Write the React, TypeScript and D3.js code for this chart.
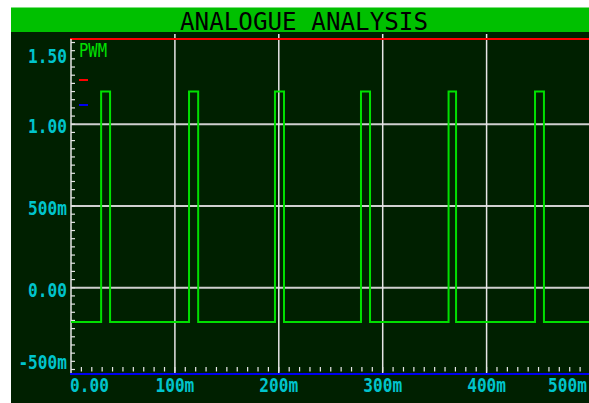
import React from "react";
import * as d3 from "d3";

const title = "ANALOGUE ANALYSIS";
const seriesName = "PWM";
const yTickValues = [1.5, 1.0, 0.5, 0.0, -0.5];
const yTickLabels = ["1.50", "1.00", "500m", "0.00", "-500m"];
const xTickValues = [0, 100, 200, 300, 400, 500];
const xTickLabels = ["0.00", "100m", "200m", "300m", "400m", "500m"];
const pulseRise = [29, 113.6, 196.3, 279.1, 363.4, 446.6]; // ms
const pulseFall = [37.6, 122.4, 205.0, 287.8, 370.6, 455.2]; // ms
const lowLevel = -0.21;
const highLevel = 1.2;
const tStart = 0;
const tEnd = 500;

const W = 589;
const H = 403;
const left = 71;
const right = 589;

export default function App() {
  const x = d3.scaleLinear().domain([0, 500]).range([71, 590.5]);
  const y = d3.scaleLinear().domain([-0.5, 1.5]).range([369.5, 42.5]);

  const pts: [number, number][] = [[tStart, lowLevel]];
  pulseRise.forEach((r, i) => {
    pts.push([r, lowLevel], [r, highLevel], [pulseFall[i], highLevel], [pulseFall[i], lowLevel]);
  });
  pts.push([tEnd, lowLevel]);
  const line = d3
    .line<[number, number]>()
    .x((d) => x(d[0]))
    .y((d) => y(d[1]));

  const yMinor = d3.range(-0.5, 1.5001, 0.05);
  const xMinor = d3.range(10, 500, 10);
  const topY = 39;
  const botY = 374;
  const font = "'DejaVu Sans Mono', monospace";
  const cyan = "#00c4cc";

  const label = (key: string, tx: number, ty: number, anchor: string, txt: string) => (
    <text
      key={key}
      transform={`translate(${tx},${ty}) scale(0.95,1.18)`}
      textAnchor={anchor}
      fontFamily={font}
      fontWeight="bold"
      fontSize={17}
      fill={cyan}
    >
      {txt}
    </text>
  );

  return (
    <svg
      width={W}
      height={H}
      style={{ position: "absolute", left: 0, top: 0 }}
      xmlns="http://www.w3.org/2000/svg"
    >
      <rect x={0} y={0} width={W} height={H} fill="#ffffff" />
      <rect x={11} y={7.5} width={W - 11} height={24.5} fill="#00c000" />
      <rect x={11} y={32} width={W - 11} height={H - 32} fill="#002000" />
      <text
        x={304}
        y={29.5}
        textAnchor="middle"
        fontFamily={font}
        fontSize={25}
        textLength={248}
        lengthAdjust="spacingAndGlyphs"
        fill="#000000"
      >
        {title}
      </text>
      <defs>
        <clipPath id="plotclip">
          <rect x={left} y={33} width={right - left} height={345} />
        </clipPath>
      </defs>
      {/* horizontal grid */}
      {yTickValues
        .filter((v) => v > -0.5 && v < 1.5)
        .map((v) => (
          <line key={"hg" + v} x1={left} x2={right} y1={y(v)} y2={y(v)} stroke="#cfcfcf" strokeWidth={2} />
        ))}
      {/* vertical grid */}
      {xTickValues
        .filter((v) => v > 0 && v < 500)
        .map((v) => (
          <line key={"vg" + v} x1={x(v)} x2={x(v)} y1={34} y2={botY} stroke="#e6e6e6" strokeWidth={1.5} />
        ))}
      {/* red top */}
      <line x1={left - 1} x2={right} y1={topY} y2={topY} stroke="#ff0000" strokeWidth={2} />
      {/* y axis */}
      <line x1={left} x2={left} y1={topY} y2={botY} stroke="#e6e6e6" strokeWidth={1.5} />
      {yMinor.map((v, i) => (
        <line key={"ym" + i} x1={left} x2={left + 4} y1={y(v)} y2={y(v)} stroke="#e6e6e6" strokeWidth={1.2} />
      ))}
      {xMinor.map((v) => (
        <line key={"xm" + v} x1={x(v)} x2={x(v)} y1={367} y2={371.5} stroke="#e6e6e6" strokeWidth={1.2} />
      ))}
      <line x1={left - 1} x2={right} y1={botY} y2={botY} stroke="#0000f0" strokeWidth={2} />
      {/* trace */}
      <path d={line(pts) || ""} fill="none" stroke="#00e000" strokeWidth={2} clipPath="url(#plotclip)" />
      {/* legend */}
      <text x={79} y={57} fontFamily={font} fontSize={19} fill="#00e000" textLength={28} lengthAdjust="spacingAndGlyphs">
        {seriesName}
      </text>
      <line x1={79} x2={88} y1={80} y2={80} stroke="#ff0000" strokeWidth={2} />
      <line x1={79} x2={88} y1={105} y2={105} stroke="#0000f0" strokeWidth={2} />
      {/* y labels */}
      {yTickValues.map((v, i) => {
        const yy = Math.min(Math.max(y(v) + 2, 56), 362) + 7;
        return label("yl" + v, 67, yy, "end", yTickLabels[i]);
      })}
      {/* x labels */}
      {xTickValues.map((v, i) => {
        const anchor = i === 0 ? "start" : i === xTickValues.length - 1 ? "end" : "middle";
        const xx = i === 0 ? 70 : i === xTickValues.length - 1 ? 587 : x(v);
        return label("xl" + v, xx, 392, anchor, xTickLabels[i]);
      })}
    </svg>
  );
}
